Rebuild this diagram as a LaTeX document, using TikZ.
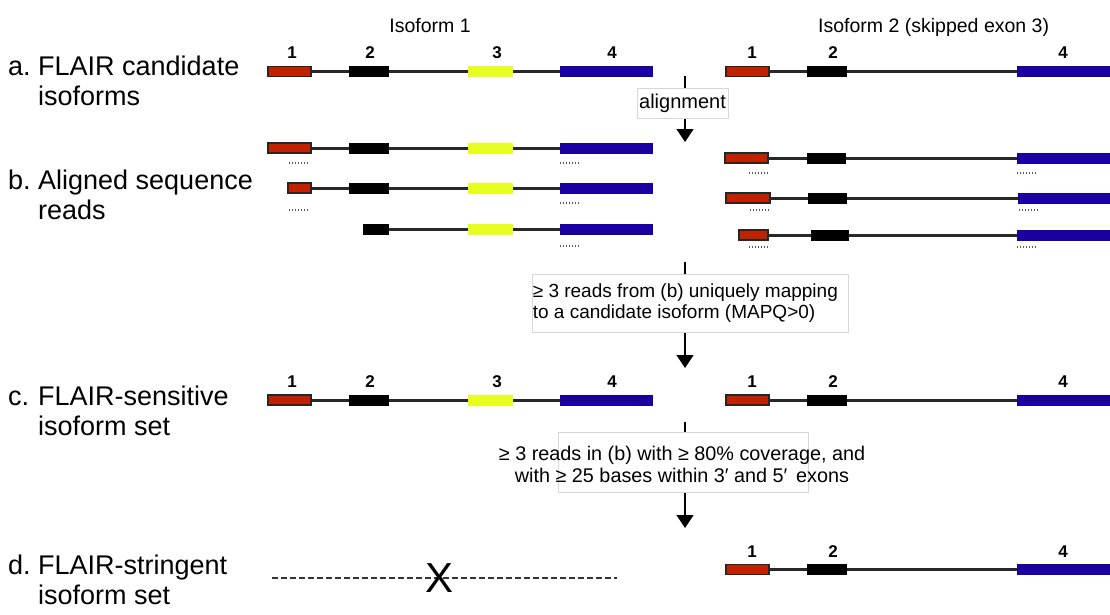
\documentclass[tikz,border=0pt]{standalone}
\usepackage{fontspec}
\setmainfont{Liberation Sans}
\usetikzlibrary{arrows.meta}

\definecolor{exred}{RGB}{192,34,0}
\definecolor{exblue}{RGB}{26,0,160}
\definecolor{exyellow}{RGB}{230,255,32}
\definecolor{intr}{RGB}{40,40,40}
\definecolor{boxline}{RGB}{215,215,215}

\tikzset{
  exon/.style={rectangle, inner sep=0pt, outer sep=0pt, minimum height=11pt},
  exA/.style={exon, fill=exred, draw=black!85, line width=1.4pt, minimum height=10pt},
  exB/.style={exon, fill=black},
  exC/.style={exon, fill=exyellow},
  exD/.style={exon, fill=exblue},
  intron/.style={draw=intr, line width=3pt},
  clipmark/.style={draw=black!65, line width=1.2pt, dash pattern=on 1.4pt off 1.6pt},
  exnum/.style={font=\fontsize{17}{20}\selectfont\bfseries, inner sep=0pt, anchor=base},
  isotitle/.style={font=\fontsize{19.5}{23}\selectfont, inner sep=0pt, anchor=base},
  rowletter/.style={font=\fontsize{27}{30}\selectfont, inner sep=0pt, anchor=base west},
  rowtext/.style={font=\fontsize{27}{30}\selectfont, inner sep=0pt, anchor=base west, align=left},
  flowarrow/.style={draw=black, line width=1.3pt, -{Triangle[width=17pt,length=13pt]}},
  critbox/.style={rectangle, draw=boxline, line width=0.8pt, fill=white, inner sep=0pt},
  crittext/.style={font=\fontsize{19}{21.5}\selectfont, inner sep=0pt},
  dropped/.style={draw=black!80, line width=2.2pt, dash pattern=on 5.5pt off 3.5pt},
}

% one exon: name, style, left x, right x, centre y
\newcommand{\exn}[5]{\node[#2, minimum width={(#4-#3)*1pt}, anchor=west] (#1) at (#3,#5) {};}

% full isoform 1 (exons 1-4) at height #2, node names prefixed by #1
\newcommand{\isoOne}[2]{%
  \exn{#1a}{exA}{268}{311}{#2}
  \exn{#1b}{exB}{349}{389}{#2}
  \exn{#1c}{exC}{468}{513}{#2}
  \exn{#1d}{exD}{560}{653}{#2}
  \draw[intron] (#1a) -- (#1b) (#1b) -- (#1c) (#1c) -- (#1d);}

% full isoform 2 (exons 1, 2, 4) at height #2
\newcommand{\isoTwo}[2]{%
  \exn{#1a}{exA}{726}{769}{#2}
  \exn{#1b}{exB}{807}{847}{#2}
  \exn{#1d}{exD}{1017}{1112}{#2}
  \draw[intron] (#1a) -- (#1b) (#1b) -- (#1d);}

% exon numbers above isoform 1 / isoform 2, baseline #2
\newcommand{\numsOne}[2]{%
  \node[exnum] (#1n1) at (292,#2) {1};
  \node[exnum] (#1n2) at (370,#2) {2};
  \node[exnum] (#1n3) at (497,#2) {3};
  \node[exnum] (#1n4) at (612,#2) {4};}
\newcommand{\numsTwo}[2]{%
  \node[exnum] (#1n1) at (752,#2) {1};
  \node[exnum] (#1n2) at (833,#2) {2};
  \node[exnum] (#1n4) at (1063,#2) {4};}

\begin{document}
\begin{tikzpicture}[x=1pt, y=-1pt]
\useasboundingbox (0,0) rectangle (1110,614);

% ---- column titles
\node[isotitle] (t1) at (430,32) {Isoform 1};
\node[isotitle, anchor=base west] (t2) at (818,32) {Isoform 2 (skipped exon 3)};

% ---- row labels (two-line texts are anchored at the baseline of their last line)
\node[rowletter] (la) at (8,75) {a.};
\node[rowtext] (lat) at (38,105) {FLAIR candidate\\isoforms};
\node[rowletter] (lb) at (8,189) {b.};
\node[rowtext] (lbt) at (38,219) {Aligned sequence\\reads};
\node[rowletter] (lc) at (8,405) {c.};
\node[rowtext] (lct) at (38,435) {FLAIR-sensitive\\isoform set};
\node[rowletter] (ld) at (8,574) {d.};
\node[rowtext] (ldt) at (38,604) {FLAIR-stringent\\isoform set};

% ---- a. candidate isoforms
\numsOne{ra}{58}
\isoOne{ra}{71.5}
\numsTwo{rA}{58}
\isoTwo{rA}{71.5}

% ---- b. aligned reads, isoform 1
\isoOne{rb}{148}
\draw[clipmark] (289,163) -- (310,163) (560,163) -- (580,163);

\exn{rcA}{exA}{288}{311}{188}
\exn{rcB}{exB}{349}{389}{188}
\exn{rcC}{exC}{468}{513}{188}
\exn{rcD}{exD}{560}{653}{188}
\draw[intron] (rcA) -- (rcB) (rcB) -- (rcC) (rcC) -- (rcD);
\draw[clipmark] (289,210) -- (310,210) (560,203) -- (580,203);

\exn{rdB}{exB}{363}{389}{229}
\exn{rdC}{exC}{468}{513}{229}
\exn{rdD}{exD}{560}{653}{229}
\draw[intron] (rdB) -- (rdC) (rdC) -- (rdD);
\draw[clipmark] (560,246) -- (580,246);

% ---- b. aligned reads, isoform 2
\exn{reA}{exA}{725}{768}{158}
\exn{reB}{exB}{807}{846}{158}
\exn{reD}{exD}{1017}{1112}{158}
\draw[intron] (reA) -- (reB) (reB) -- (reD);
\draw[clipmark] (749,173) -- (769,173) (1017,173) -- (1037,173);

\exn{rfA}{exA}{726}{770}{198}
\exn{rfB}{exB}{808}{847}{198}
\exn{rfD}{exD}{1018}{1112}{198}
\draw[intron] (rfA) -- (rfB) (rfB) -- (rfD);
\draw[clipmark] (750,210) -- (771,210) (1019,210) -- (1039,210);

\exn{rgA}{exA}{739}{768}{235}
\exn{rgB}{exB}{811}{849}{235}
\exn{rgD}{exD}{1017}{1112}{235}
\draw[intron] (rgA) -- (rgB) (rgB) -- (rgD);
\draw[clipmark] (749,247) -- (770,247) (1017,247) -- (1037,247);

% ---- c. sensitive set
\numsOne{rh}{387}
\isoOne{rh}{400}
\numsTwo{rH}{387}
\isoTwo{rH}{400}

% ---- d. stringent set
\coordinate (dropL) at (272,578);
\coordinate (dropR) at (617,578);
\draw[dropped] (dropL) -- (dropR);
\node[font=\fontsize{42}{42}\selectfont, inner sep=0pt] (dropX) at (440,578) {X};
\numsTwo{rI}{557}
\isoTwo{rI}{569.5}

% ---- filtering steps
\coordinate (f1s) at (685,76);
\coordinate (f1e) at (685,142);
\draw[flowarrow] (f1s) -- (f1e);
\node[critbox, minimum width=91pt, minimum height=30pt] (f1box) at (682.5,103) {};
\node[crittext, font=\fontsize{20}{22}\selectfont] (f1) at (f1box) {alignment};

\coordinate (f2s) at (685,262);
\coordinate (f2e) at (685,368);
\draw[flowarrow] (f2s) -- (f2e);
\node[critbox, minimum width=316pt, minimum height=58pt] (f2box) at (690,303) {};
\node[crittext, align=left, anchor=west] (f2) at ([xshift=1pt]f2box.west) {≥ 3 reads from (b) uniquely mapping\\to a candidate isoform (MAPQ>0)};

\coordinate (f3s) at (685,422);
\coordinate (f3e) at (685,528);
\draw[flowarrow] (f3s) -- (f3e);
\node[critbox, minimum width=250pt, minimum height=60pt] (f3box) at (683,462) {};
\node[crittext, font=\fontsize{19.8}{22}\selectfont, align=center] (f3) at (682,464) {≥ 3 reads in (b) with ≥ 80\% coverage, and\\with ≥ 25 bases within 3′ and 5′\, exons};

\end{tikzpicture}
\end{document}
